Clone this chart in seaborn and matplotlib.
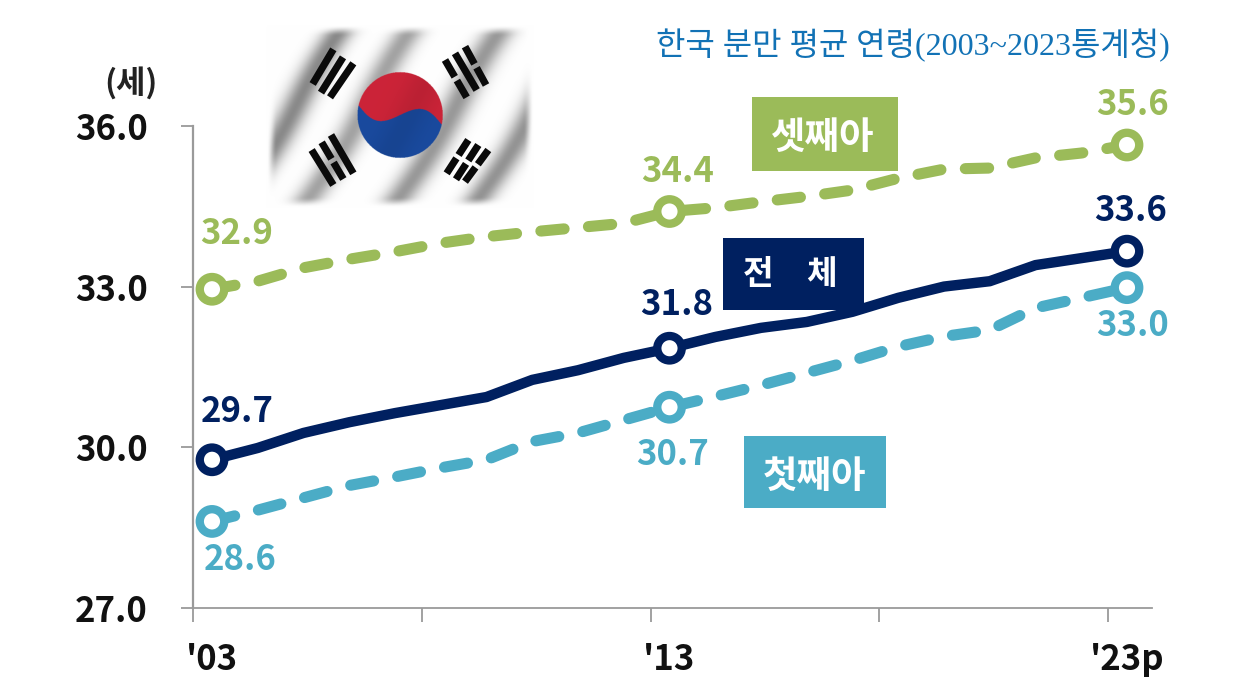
import numpy as np
import pandas as pd
import seaborn as sns
import matplotlib
matplotlib.use("Agg")
import matplotlib.pyplot as plt
from matplotlib.patches import Rectangle

W, H = 1257, 699
years = list(range(2003, 2024))
total = [29.77, 29.99, 30.27, 30.47, 30.64, 30.79, 30.94, 31.26, 31.44, 31.67, 31.85,
         32.06, 32.23, 32.34, 32.53, 32.79, 33.00, 33.10, 33.40, 33.53, 33.66]
first = [28.62, 28.83, 29.06, 29.29, 29.45, 29.62, 29.77, 30.11, 30.27, 30.51, 30.75,
         30.95, 31.16, 31.39, 31.62, 31.88, 32.07, 32.19, 32.60, 32.79, 32.98]
third = [32.95, 33.10, 33.35, 33.51, 33.65, 33.81, 33.93, 34.02, 34.10, 34.18, 34.40,
         34.47, 34.58, 34.68, 34.80, 35.02, 35.19, 35.21, 35.40, 35.49, 35.64]
series_names = ["전체", "첫째아", "셋째아"]
marked_years = [2003, 2013, 2023]
x_tick_labels = ["'03", "'13", "'23p"]
y_ticks = [27, 30, 33, 36]
total_labels = ["29.7", "31.8", "33.6"]
first_labels = ["28.6", "30.7", "33.0"]
third_labels = ["32.9", "34.4", "35.6"]
title = "한국 분만 평균 연령(2003~2023통계청)"
unit = "(세)"

NAVY, TEAL, GREEN = "#002060", "#4BACC6", "#9BBB59"
palette = {"전체": NAVY, "첫째아": TEAL, "셋째아": GREEN}
KR = ["Noto Sans CJK KR", "DejaVu Sans"]

sns.set_theme(style="white")
plt.rcParams["font.family"] = KR

df = pd.DataFrame({"year": years * 3,
                   "age": total + first + third,
                   "series": np.repeat(series_names, len(years))})

fig = plt.figure(figsize=(W / 100, H / 100), dpi=100, facecolor="white")

# ---- decorative flag, in its own axes behind the chart ----
fl = fig.add_axes([250 / W, 1 - 220 / H, 300 / W, 210 / H], zorder=0)
fl.set_xlim(0, 900); fl.set_ylim(630, 0); fl.axis("off")
xx, yy = np.meshgrid(np.arange(0, 900, 1.0), np.arange(0, 630, 1.0))
u = xx + 0.62 * (yy - 50) + 10 * np.sin(yy / 90)
shade = sum(d * np.exp(-((u - c) / s) ** 2) for c, s, d in
            [(285, 46, 0.46), (495, 46, 0.36), (765, 48, 0.40), (1005, 46, 0.42)])
def smooth(a, b, v):
    t = np.clip((v - a) / (b - a), 0, 1)
    return t * t * (3 - 2 * t)
env = (smooth(48, 80, yy) * (1 - smooth(560, 592, yy)) *
       smooth(50, 80, xx) * (1 - smooth(820, 850, xx)))
gray = 1 - np.clip(shade, 0, 1) * env
img = np.dstack([gray, gray, gray])
cx, cy, R = 450, 316, 128
a = np.deg2rad(13)
dx, dy = xx - cx, yy - cy
s_ = dx * np.cos(a) + dy * np.sin(a)
t_ = -dx * np.sin(a) + dy * np.cos(a)
inside = dx ** 2 + dy ** 2 <= R ** 2
red = t_ < -32 * np.sin(np.pi * np.clip(s_ / R, -1, 1))
sheen = 1 - 0.08 * np.exp(-((u - 640) / 60) ** 2)
img[inside & red] = np.array([0.80, 0.14, 0.22])
img[inside & ~red] = np.array([0.10, 0.29, 0.62])
img[inside] *= sheen[inside][:, None]
fl.imshow(img, extent=(0, 900, 630, 0), aspect="auto", interpolation="antialiased")
solid = [((250, 118), (188, 222)), ((279, 142), (213, 248)), ((310, 160), (240, 262)),
         ((615, 130), (680, 240)), ((185, 420), (250, 525)), ((243, 375), (310, 490))]
broken = [((645, 110), (708, 225)), ((585, 150), (650, 262)), ((215, 397), (280, 507)),
          ((655, 390), (590, 490)), ((685, 405), (618, 508)), ((715, 420), (645, 515))]
for p, q in solid:
    fl.plot([p[0], q[0]], [p[1], q[1]], color="#0a0a0a", lw=5.2, solid_capstyle="butt")
for p, q in broken:
    p, q = np.array(p, float), np.array(q, float)
    m1, m2 = p + (q - p) * 0.45, p + (q - p) * 0.55
    for e1, e2 in ((p, m1), (m2, q)):
        fl.plot([e1[0], e2[0]], [e1[1], e2[1]], color="#0a0a0a", lw=5.2, solid_capstyle="butt")
fl.set_xlim(0, 900); fl.set_ylim(630, 0)

# ---- main chart ----
L, R_, T, B = 193, 1152, 125.7, 608.3
ax = fig.add_axes([L / W, 1 - B / H, (R_ - L) / W, (B - T) / H], zorder=1)
ax.patch.set_alpha(0)
sns.lineplot(data=df, x="year", y="age", hue="series", style="series", palette=palette,
             dashes={"전체": "", "첫째아": (2.1, 2.2), "셋째아": (2.1, 2.2)},
             markers=False, legend=False, linewidth=8, errorbar=None, ax=ax)
for line in ax.get_lines():
    line.set_dash_capstyle("round")
    line.set_solid_capstyle("round")
    line.set_solid_joinstyle("round")
ax.get_lines()[0].set_linewidth(7.5)
sns.scatterplot(data=df[df["year"].isin(marked_years)], x="year", y="age", hue="series",
                palette=palette, legend=False, ax=ax, s=1, zorder=5)
coll = ax.collections[-1]
vals = df[df["year"].isin(marked_years)]
coll.set_facecolor("white")
coll.set_edgecolor([palette[n] for n in vals["series"]])
coll.set_sizes([310])
coll.set_linewidth(6)
coll.set_clip_on(False)

x0 = 2003 + (L - 212) / 45.75
ax.set_xlim(x0, 2003 + (R_ - 212) / 45.75)
ax.set_ylim(27, 36)
ax.set_xlabel(""); ax.set_ylabel("")
GREY = "#9a9a9a"
for side in ("top", "right"):
    ax.spines[side].set_visible(False)
ax.spines["left"].set_color(GREY); ax.spines["left"].set_linewidth(1.6)
ax.spines["bottom"].set_color(GREY); ax.spines["bottom"].set_linewidth(1.3)
ax.set_xticks([x0 + 5 * k for k in range(5)])
ax.set_xticklabels([])
ax.tick_params(axis="x", which="major", length=10, width=1.3, color=GREY, bottom=True)
ax.set_xticks(marked_years, minor=True)
ax.set_xticklabels(x_tick_labels, minor=True, fontsize=25, fontweight="bold", color="#111111",
                   family=KR)
ax.tick_params(axis="x", which="minor", length=0, pad=24)
ax.set_yticks(y_ticks)
ax.set_yticklabels([f"{v:.1f}" for v in y_ticks], fontsize=25, fontweight="bold", color="#111111",
                   family=KR)
ax.tick_params(axis="y", length=8.5, width=1.3, color=GREY, left=True, pad=24)

# value labels: offsets in pixels from each marked point
offsets = {"total": [(25, 48), (7, 44), (4, 41)],
           "first": [(28, -38), (3, -47), (6, -38)],
           "third": [(25, 56), (8, 40), (6, 41)]}
series_sets = [("total", total, total_labels, NAVY), ("first", first, first_labels, TEAL),
               ("third", third, third_labels, GREEN)]
for key, vals_, labs, col in series_sets:
    for yr, lab, off in zip(marked_years, labs, offsets[key]):
        ax.annotate(lab, (yr, vals_[years.index(yr)]), xytext=off, textcoords="offset pixels",
                    ha="center", va="center", fontsize=25, fontweight="bold", color=col,
                    family=KR, zorder=6, annotation_clip=False)

# series name boxes, placed in pixel positions through axes fractions
def fx(px): return (px - L) / (R_ - L)
def fy(py): return (B - py) / (B - T)
boxes = [(722.7, 238.3, 864.3, 310, NAVY, "전\u3000체", 790, 275, 24),
         (751.7, 97.3, 898.3, 171, GREEN, "셋째아", 823, 137, 27),
         (743.7, 435.7, 886.3, 507.7, TEAL, "첫째아", 814, 476, 27)]
for x1, y1, x2, y2, col, name, tx, ty, fs in boxes:
    ax.add_patch(Rectangle((fx(x1), fy(y2)), fx(x2) - fx(x1), fy(y1) - fy(y2), transform=ax.transAxes,
                           facecolor=col, edgecolor="none", zorder=3, clip_on=False))
    ax.text(fx(tx), fy(ty), name, transform=ax.transAxes, ha="center", va="center", color="white",
            fontsize=fs, fontweight="bold", family=KR, zorder=4)

fig.text(131 / W, 1 - 83 / H, unit, ha="center", va="center", fontsize=23, fontweight="bold",
         color="#222222", family=KR)
fig.text(913 / W, 1 - 46 / H, title, ha="center", va="center", fontsize=23, color="#1272B5",
         family=["Liberation Serif", "Noto Sans CJK KR"])

fig.savefig("out.png", dpi=100, facecolor="white")
